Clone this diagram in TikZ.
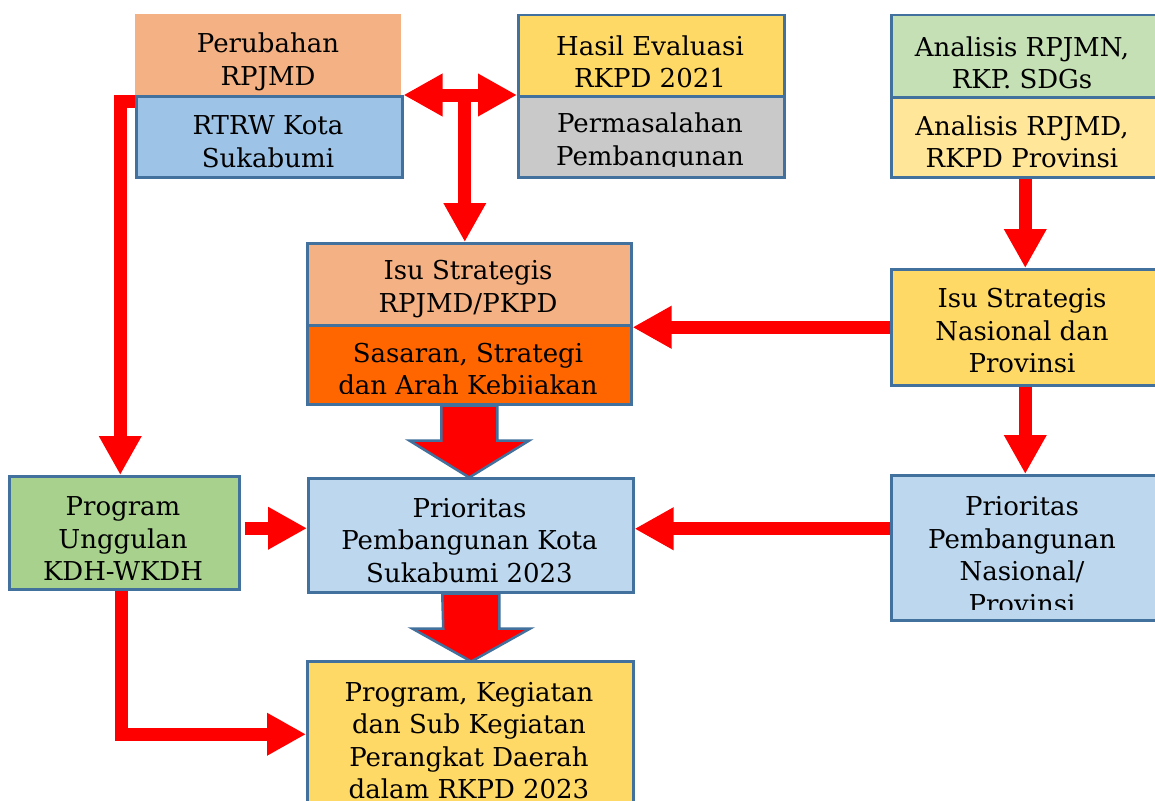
\documentclass[tikz,border=0pt]{standalone}
\usepackage{fontspec}
\setmainfont{DejaVu Serif}
\usetikzlibrary{arrows.meta,calc}
\definecolor{salmon}{HTML}{F4B183}
\definecolor{blueA}{HTML}{9DC3E6}
\definecolor{blueB}{HTML}{BDD7EE}
\definecolor{yelA}{HTML}{FFD966}
\definecolor{yelB}{HTML}{FFE699}
\definecolor{greyA}{HTML}{C9C9C9}
\definecolor{greenA}{HTML}{C5E0B4}
\definecolor{greenB}{HTML}{A9D18E}
\definecolor{orangeA}{HTML}{FF6600}
\definecolor{bord}{HTML}{41719C}
\definecolor{redA}{HTML}{FF0000}
\tikzset{
  bx/.style={draw=bord, line width=2.5pt, anchor=north west, inner sep=0pt},
  bxn/.style={anchor=north west, inner sep=0pt},
  txt/.style={align=center, inner sep=0pt, font=\fontsize{26}{32.5}\selectfont, text=black},
  conn/.style={draw=redA, line width=13pt, -{Triangle[length=39pt,width=40pt]}},
  dconn/.style={draw=redA, line width=13pt, {Triangle[length=39pt,width=40pt]}-{Triangle[length=39pt,width=40pt]}},
  blk/.style={fill=redA, draw=bord, line width=2.5pt, line join=miter},
}
\newcommand{\mybox}[7][bx]{\node[#1, fill=#7, minimum width=#4pt, minimum height=#5pt] (#2) at (#3,#6) {};}
\begin{document}
\begin{tikzpicture}[x=1pt,y=-1pt]
\useasboundingbox (0,0) rectangle (1155,800);
\clip (0,0) rectangle (1155,800);
\fill[white] (0,0) rectangle (1155,800);

% box geometry (named nodes used by the connectors)
\mybox[bxn]{per}{135}{266}{81}{14}{salmon}
\mybox{rtrw}{135}{266}{81}{95}{blueA}
\mybox{hasil}{517}{266}{81}{14}{yelA}
\mybox{perm}{517}{266}{81}{95}{greyA}
\mybox{an1}{890}{268}{82}{14}{greenA}
\mybox{an2}{890}{268}{80}{96}{yelB}
\mybox{isu}{306}{324}{82}{242}{salmon}
\mybox{sas}{306}{324}{79}{324}{orangeA}
\mybox{isn}{890}{268}{116}{268}{yelA}
\mybox{pu}{8}{230}{113}{475}{greenB}
\mybox{pko}{307}{325}{114}{477}{blueB}
\mybox{pn}{890}{268}{145}{474}{blueB}
\mybox{pk}{306}{326}{146}{660}{yelA}

% red connectors
\draw[conn] ($(rtrw.west)+(1,-35.5)$) -| ($(pu.north)+(-4,0)$);
\draw[conn] ($(pu.south)+(-3,0)$) |- (pk.west);
\draw[conn] ($(pu.east)+(4,-4.5)$) coordinate (a1) -- (pko.west |- a1);
\draw[dconn] (rtrw.north east) -- (perm.north west);
\coordinate (tj) at ($(rtrw.north east)!0.54!(perm.north west)$);
\draw[conn] (tj) -- (tj |- isu.north);
\draw[conn] (an2.south) -- (isn.north);
\draw[conn] (isn.west) -- (isn.west -| isu.east);
\draw[conn] (isn.south) -- (pn.north);
\draw[conn] ($(pn.west)+(0,-19)$) coordinate (b1) -- (b1 -| pko.east);

% block arrows
\draw[blk] ($(sas.south)+(-28,0)$) -- ++(56,0) -- ++(0,35) -- ++(32,0) -- ++(-60,37) -- ++(-60,-37) -- ++(32,0) -- cycle;
\draw[blk] ($(pko.south)+(-28.5,0)$) -- ++(57,0) -- ++(0,35) -- ++(31,0) -- ++(-59,33) -- ++(-59,-33) -- ++(31,0) -- cycle;

% redraw boxes over connectors
\mybox[bxn]{per2}{135}{266}{81}{14}{salmon}
\mybox{rtrw2}{135}{266}{81}{95}{blueA}
\mybox{hasil2}{517}{266}{81}{14}{yelA}
\mybox{perm2}{517}{266}{81}{95}{greyA}
\mybox{an12}{890}{268}{82}{14}{greenA}
\mybox{an22}{890}{268}{80}{96}{yelB}
\mybox{isu2}{306}{324}{82}{242}{salmon}
\mybox{sas2}{306}{324}{79}{324}{orangeA}
\mybox{isn2}{890}{268}{116}{268}{yelA}
\mybox{pu2}{8}{230}{113}{475}{greenB}
\mybox{pko2}{307}{325}{114}{477}{blueB}
\mybox{pn2}{890}{268}{145}{474}{blueB}
\mybox{pk2}{306}{326}{146}{660}{yelA}

% texts
\node[txt] (tper) at (268,62) {Perubahan\\RPJMD};
\node[txt] (trtrw) at (268,141.5) {RTRW Kota\\Sukabumi};
\node[txt] (thasil) at (650,62) {Hasil Evaluasi\\RKPD 2021};
\begin{scope}
\clip (perm.north west) rectangle ($(perm.south east)+(0,-12)$);
\node[txt] (tperm) at (650,142) {Permasalahan\\Pembangunan};
\end{scope}
\node[txt] (tan1) at (1022,63) {Analisis RPJMN,\\RKP. SDGs};
\node[txt] (tan2) at (1022,142) {Analisis RPJMD,\\RKPD Provinsi};
\node[txt] (tisu) at (468,289) {Isu Strategis\\RPJMD/PKPD};
\begin{scope}
\clip (sas.north west) rectangle ($(sas.south east)+(0,-12)$);
\node[txt] (tsas) at (468,371.5) {Sasaran, Strategi\\dan Arah Kebijakan};
\end{scope}
\node[txt] (tisn) at (1022,331) {Isu Strategis\\Nasional dan\\Provinsi};
\node[txt] (tpu) at (123,539) {Program\\Unggulan\\KDH-WKDH};
\node[txt] (tpko) at (469.5,540.5) {Prioritas\\Pembangunan Kota\\Sukabumi 2023};
\begin{scope}
\clip (pn.north west) rectangle ($(pn.south east)+(0,-12)$);
\node[txt] (tpn) at (1022,555) {Prioritas\\Pembangunan\\Nasional/\\Provinsi};
\end{scope}
\node[txt] (tpk) at (469,740.5) {Program, Kegiatan\\dan Sub Kegiatan\\Perangkat Daerah\\dalam RKPD 2023};
\end{tikzpicture}
\end{document}
